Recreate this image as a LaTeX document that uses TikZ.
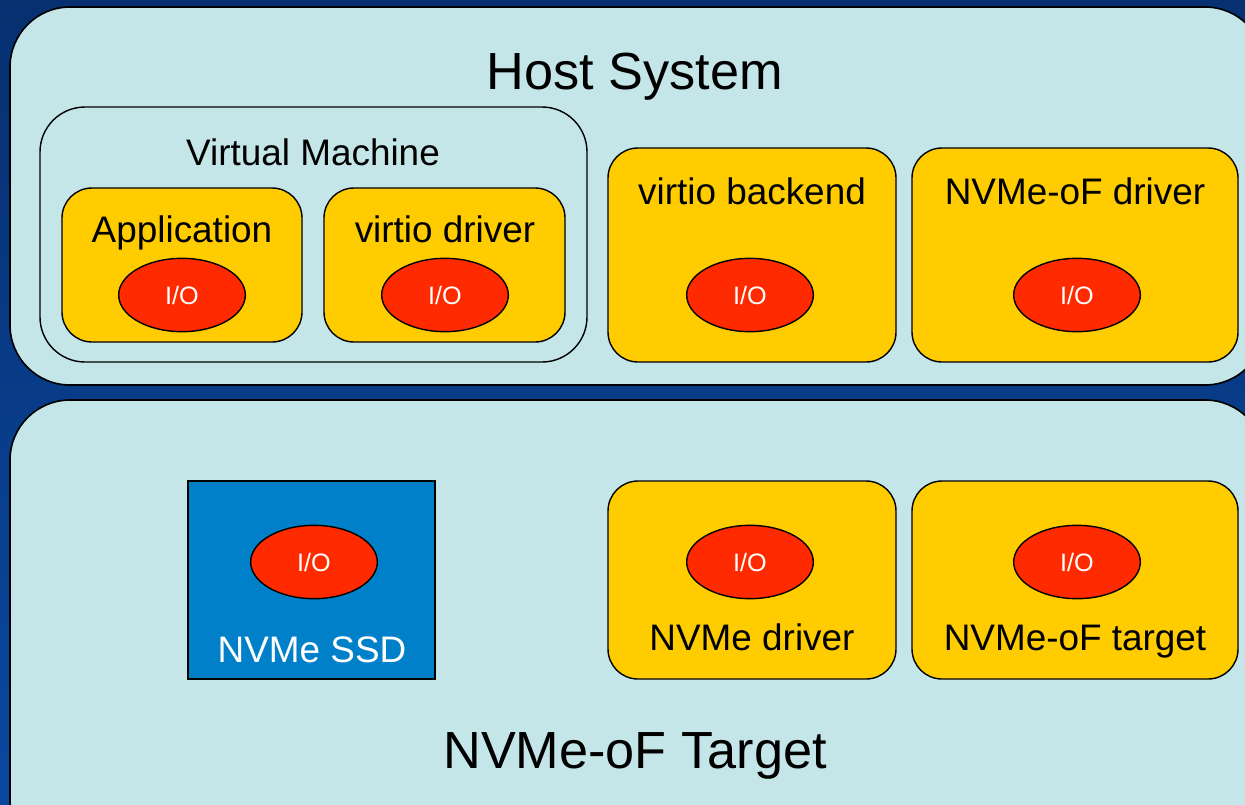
\documentclass[tikz,border=0pt]{standalone}
\usepackage{fontspec}
\setmainfont{Liberation Sans}
\usetikzlibrary{positioning, shapes.geometric}
\definecolor{bgtop}{RGB}{6,48,112}
\definecolor{bgbottom}{RGB}{10,72,160}
\definecolor{panelcolor}{RGB}{196,230,232}
\definecolor{modcolor}{RGB}{255,204,0}
\definecolor{iocolor}{RGB}{255,42,0}
\definecolor{ssdcolor}{RGB}{0,128,200}

\begin{document}
\begin{tikzpicture}[
    x=0.03cm, y=-0.03cm,
    panel/.style={draw, line width=1.4pt, fill=panelcolor, rounded corners=1.8cm, inner sep=0pt},
    module/.style={draw, line width=1.2pt, fill=modcolor, rounded corners=0.9cm, inner sep=0pt},
    io/.style={ellipse, draw, line width=1.2pt, fill=iocolor, text=white, inner sep=0pt,
               minimum width=3.8cm, minimum height=2.2cm, font=\fontsize{21.5}{25}\selectfont},
    title/.style={anchor=base, font=\fontsize{44.6}{50}\selectfont},
    modlabel/.style={anchor=base, font=\fontsize{31.5}{36}\selectfont},
]
    \useasboundingbox (0,0) rectangle (1245,804);
    \clip (0,0) rectangle (1245,804);
    \shade[top color=bgtop, bottom color=bgbottom] (0,0) rectangle (1245,804);

    % host side
    \node[panel, minimum width=1255*0.03cm, minimum height=378*0.03cm] (host) at (637.5,196) {};
    \node[title] (hostlbl) at (635,89) {Host System};
    \node[draw, line width=1.2pt, fill=panelcolor, rounded corners=1.35cm,
          minimum width=547*0.03cm, minimum height=255*0.03cm] (vm) at (313.5,234.5) {};
    \node[modlabel] (vmlbl) at (313,165) {Virtual Machine};

    \node[module, minimum width=240*0.03cm, minimum height=154*0.03cm] (app) at (182,265) {};
    \node[modlabel] (applbl) at (182,242) {Application};
    \node[io] (appio) at (182,295) {I/O};

    \node[module, minimum width=241*0.03cm, minimum height=154*0.03cm] (vdrv) at (444.5,265) {};
    \node[modlabel] (vdrvlbl) at (445,242) {virtio driver};
    \node[io] (vdrvio) at (445,295) {I/O};

    \node[module, minimum width=288*0.03cm, minimum height=214*0.03cm] (vback) at (752,255) {};
    \node[modlabel] (vbacklbl) at (752,204) {virtio backend};
    \node[io] (vbackio) at (750,295) {I/O};

    \node[module, minimum width=326*0.03cm, minimum height=214*0.03cm] (ofdrv) at (1075,255) {};
    \node[modlabel] (ofdrvlbl) at (1075,204) {NVMe-oF driver};
    \node[io] (ofdrvio) at (1077,295) {I/O};

    % target side
    \node[panel, minimum width=1255*0.03cm, minimum height=460*0.03cm] (target) at (637.5,630) {};
    \node[title] (targetlbl) at (635,768) {NVMe-oF Target};

    \node[draw, line width=1.2pt, fill=ssdcolor, inner sep=0pt,
          minimum width=247*0.03cm, minimum height=198*0.03cm] (ssd) at (311.5,580) {};
    \node[modlabel, text=white] (ssdlbl) at (312,662) {NVMe SSD};
    \node[io] (ssdio) at (314,562) {I/O};

    \node[module, minimum width=288*0.03cm, minimum height=198*0.03cm] (nvdrv) at (752,580) {};
    \node[modlabel] (nvdrvlbl) at (752,650) {NVMe driver};
    \node[io] (nvdrvio) at (750,562) {I/O};

    \node[module, minimum width=326*0.03cm, minimum height=198*0.03cm] (oftgt) at (1075,580) {};
    \node[modlabel] (oftgtlbl) at (1075,650) {NVMe-oF target};
    \node[io] (oftgtio) at (1077,562) {I/O};
\end{tikzpicture}
\end{document}
